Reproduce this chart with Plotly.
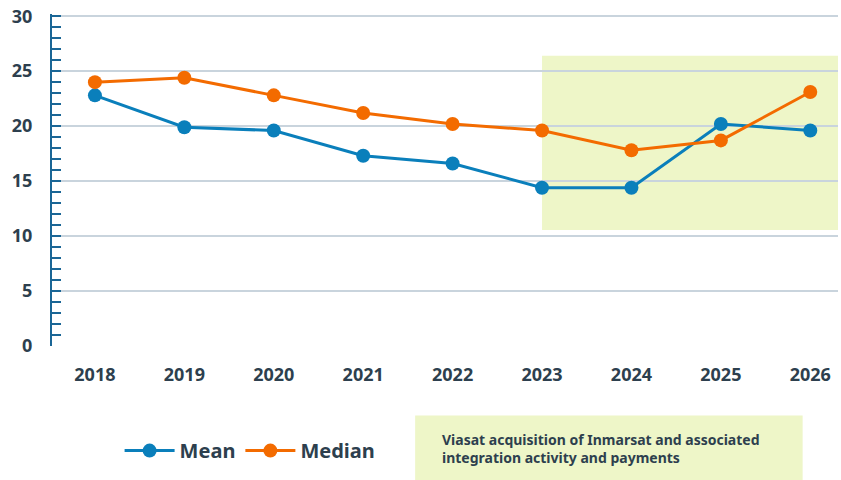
import plotly.graph_objects as go

years = [2018, 2019, 2020, 2021, 2022, 2023, 2024, 2025, 2026]
mean_vals = [22.8, 19.9, 19.6, 17.3, 16.6, 14.4, 14.4, 20.2, 19.6]
median_vals = [24.0, 24.4, 22.8, 21.2, 20.2, 19.6, 17.8, 18.7, 23.1]
y_ticks = [0, 5, 10, 15, 20, 25, 30]
shade_start = 2023
shade_y = [10.55, 26.4]
note = "Viasat acquisition of Inmarsat and associated<br>integration activity and payments"

FONT = "Noto Sans"
TXT = "#2d3f4e"
BLUE = "#0a7fbb"
ORANGE = "#f36b00"

fig = go.Figure()
fig.add_trace(go.Scatter(x=years, y=mean_vals, name="Mean", mode="lines+markers",
                         line=dict(color=BLUE, width=3), marker=dict(size=14, color=BLUE)))
fig.add_trace(go.Scatter(x=years, y=median_vals, name="Median", mode="lines+markers",
                         line=dict(color=ORANGE, width=3), marker=dict(size=14, color=ORANGE)))

fig.add_shape(type="rect", xref="x", yref="y", x0=shade_start, x1=2026.31,
              y0=shade_y[0], y1=shade_y[1], fillcolor="#eef6c8", line=dict(width=0), layer="below")
fig.add_shape(type="rect", xref="paper", yref="paper", x0=0.462, x1=0.955, y0=-0.406, y1=-0.209,
              fillcolor="#eef6c8", line=dict(width=0), layer="below")
fig.add_annotation(xref="paper", yref="paper", x=0.494, y=-0.308, xanchor="left", yanchor="middle",
                   text=note, showarrow=False, align="left",
                   font=dict(family=FONT, size=14, color=TXT, weight="bold"))

fig.update_layout(
    width=841, height=480,
    margin=dict(l=52, r=3, t=14, b=134),
    plot_bgcolor="white", paper_bgcolor="white",
    font=dict(family=FONT, color=TXT),
    showlegend=True,
    legend=dict(orientation="h", x=0.086, y=-0.315, xanchor="left", yanchor="middle",
                font=dict(size=20, color=TXT, weight="bold"), itemwidth=50, tracegroupgap=0),
)
fig.update_xaxes(range=[2017.52, 2026.31], tickvals=years, ticktext=[str(y) for y in years],
                 showgrid=False, showline=False, zeroline=False, ticks="",
                 tickfont=dict(size=18, color=TXT, weight="bold"), ticklabelstandoff=16)
fig.update_yaxes(range=[0, 30.2], tickvals=y_ticks, showgrid=True, gridcolor="#c9d4dd", gridwidth=2,
                 zeroline=False, showline=True, linecolor="#1a6696", linewidth=2,
                 ticks="inside", ticklen=9, tickcolor="#1a6696", tickwidth=2,
                 minor=dict(dtick=1, ticks="inside", ticklen=9, tickcolor="#1a6696", tickwidth=2, showgrid=False),
                 tickfont=dict(size=18, color=TXT, weight="bold"), ticklabelstandoff=14)

fig.write_html("out.html", config={"displayModeBar": False},
               post_script="document.body.style.margin='0';")
